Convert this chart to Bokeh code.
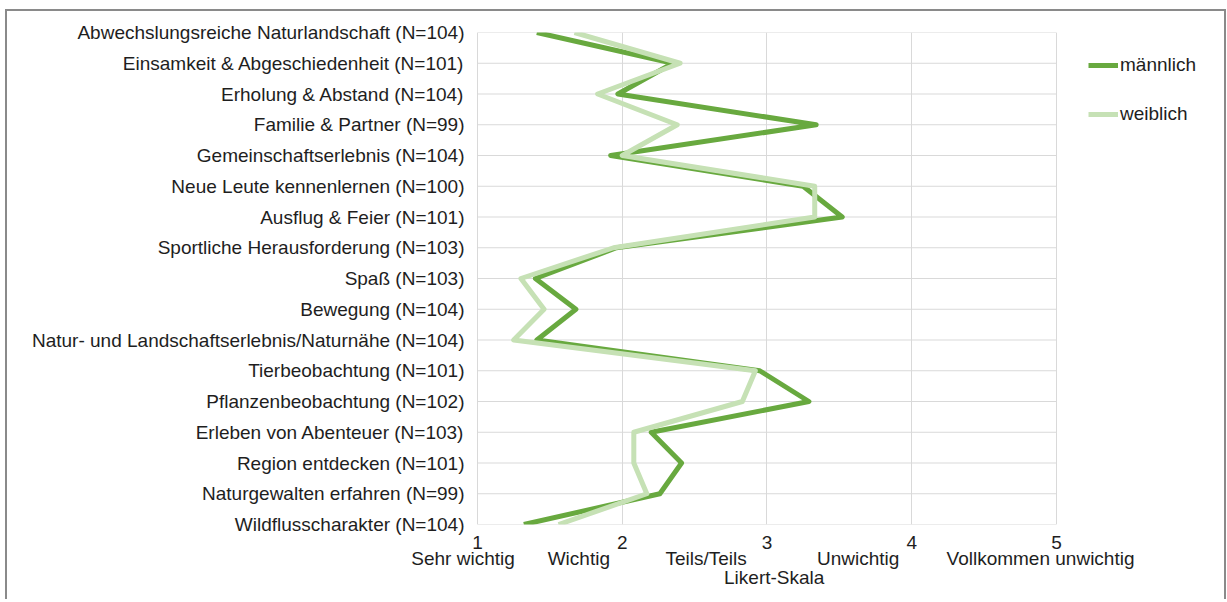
from bokeh.plotting import figure
from bokeh.models import Range1d, FixedTicker, Legend, LegendItem, LinearAxis
from bokeh.embed import file_html
from bokeh.resources import INLINE

categories = [
    "Abwechslungsreiche Naturlandschaft (N=104)",
    "Einsamkeit & Abgeschiedenheit (N=101)",
    "Erholung & Abstand (N=104)",
    "Familie & Partner (N=99)",
    "Gemeinschaftserlebnis (N=104)",
    "Neue Leute kennenlernen (N=100)",
    "Ausflug & Feier (N=101)",
    "Sportliche Herausforderung (N=103)",
    "Spaß (N=103)",
    "Bewegung (N=104)",
    "Natur- und Landschaftserlebnis/Naturnähe (N=104)",
    "Tierbeobachtung (N=101)",
    "Pflanzenbeobachtung (N=102)",
    "Erleben von Abenteuer (N=103)",
    "Region entdecken (N=101)",
    "Naturgewalten erfahren (N=99)",
    "Wildflusscharakter (N=104)",
]
maennlich = [1.41, 2.35, 1.97, 3.34, 1.92, 3.25, 3.52, 1.96, 1.40, 1.68, 1.41, 2.95, 3.29, 2.20, 2.41, 2.26, 1.32]
weiblich = [1.67, 2.40, 1.83, 2.38, 2.00, 3.33, 3.33, 1.94, 1.30, 1.46, 1.25, 2.92, 2.83, 2.08, 2.08, 2.17, 1.56]
x_ticks = [1, 2, 3, 4, 5]
scale_words = ["Sehr wichtig", "Wichtig", "Teils/Teils", "Unwichtig", "Vollkommen unwichtig"]
scale_word_pos = [0.90, 1.70, 2.58, 3.63, 4.89]
x_title = "Likert-Skala"
x_title_pos = 3.05

FONT = "Liberation Sans"
FS = "19px"
TXT = "#1e1e1e"
GRID = "#d9d9d9"

rows = list(range(len(categories)))

p = figure(width=1221, height=590, output_backend="svg", toolbar_location=None,
           x_range=Range1d(0.848, 6.106), y_range=Range1d(len(categories) - 1, 0),
           min_border_left=448, min_border_top=21, min_border_right=12, min_border_bottom=77)
p.styles = {"border-left": "2px solid #8a8a8a", "border-top": "2px solid #8a8a8a",
            "border-right": "2px solid #8a8a8a", "margin-left": "5px", "margin-top": "9px"}
p.outline_line_color = None
p.background_fill_color = "white"

# horizontal grid lines only across the scale 1..5
p.segment(x0=[x_ticks[0]] * len(rows), x1=[x_ticks[-1]] * len(rows), y0=rows, y1=rows,
          line_color=GRID, line_width=1)

r_m = p.line(maennlich, rows, line_color="#68a93f", line_width=5, line_join="round")
r_w = p.line(weiblich, rows, line_color="#c6e1b5", line_width=5, line_join="round")

num_axis = p.xaxis[0]
num_axis.ticker = FixedTicker(ticks=x_ticks)
num_axis.major_label_standoff = 11

words_axis = LinearAxis(ticker=FixedTicker(ticks=scale_word_pos),
                        major_label_overrides={v: w for v, w in zip(scale_word_pos, scale_words)},
                        major_label_standoff=-4)
p.add_layout(words_axis, "below")

title_axis = LinearAxis(ticker=FixedTicker(ticks=[x_title_pos]),
                        major_label_overrides={x_title_pos: x_title},
                        major_label_standoff=-5)
p.add_layout(title_axis, "below")

p.yaxis[0].ticker = FixedTicker(ticks=rows)
p.yaxis[0].major_label_overrides = {i: c for i, c in enumerate(categories)}
p.yaxis[0].major_label_standoff = -9

for ax in (num_axis, words_axis, title_axis, p.yaxis[0]):
    ax.axis_line_color = None
    ax.major_tick_line_color = None
    ax.minor_tick_line_color = None
    ax.major_tick_in = 0
    ax.major_tick_out = 0
    ax.major_label_text_font = FONT
    ax.major_label_text_font_size = FS
    ax.major_label_text_color = TXT

p.xgrid[0].ticker = FixedTicker(ticks=x_ticks)
p.xgrid.grid_line_color = GRID
p.xgrid.grid_line_width = 1
p.ygrid.grid_line_color = None

legend = Legend(items=[LegendItem(label="männlich", renderers=[r_m]),
                       LegendItem(label="weiblich", renderers=[r_w])],
                location=(633, 399), border_line_color=None, background_fill_alpha=0,
                label_text_font=FONT, label_text_font_size=FS, label_text_color=TXT,
                glyph_width=30, spacing=27, padding=0, margin=0, label_standoff=2,
                label_height=22)
p.add_layout(legend, "center")

open("out.html", "w").write(file_html(p, INLINE))
